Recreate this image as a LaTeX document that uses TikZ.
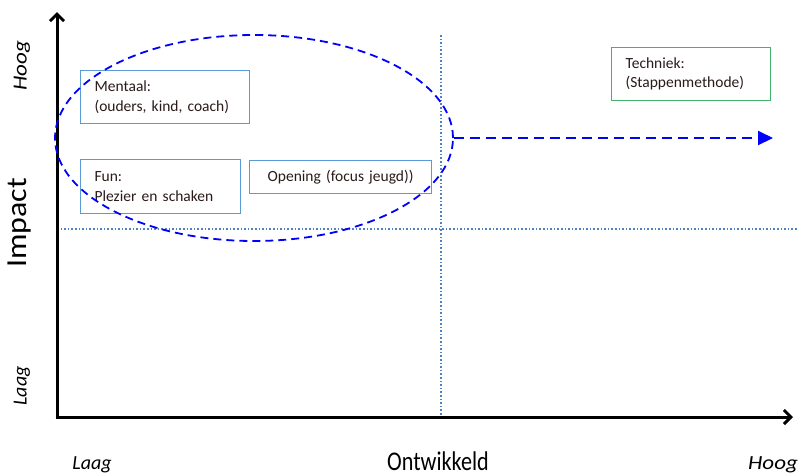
\documentclass[tikz,border=0pt]{standalone}
\usepackage{fontspec}
\setmainfont{Carlito}
\usetikzlibrary{arrows.meta,shapes.geometric}
\definecolor{boxblue}{HTML}{5B9BD5}
\definecolor{dotblue}{HTML}{4F81BD}
\definecolor{boxgreen}{HTML}{3DB36B}
\definecolor{txt}{HTML}{2A1A1A}
\tikzset{
  axis/.style={line width=3pt,-{Straight Barb[length=7pt,width=14pt,line width=3pt]}},
  dotln/.style={dotblue,line width=1.6pt,dash pattern=on 1.6pt off 2pt},
  qbox/.style={draw=boxblue,line width=1.2pt,rectangle,anchor=north west,inner xsep=14pt,inner ysep=0pt,align=left,font=\fontsize{15.5}{19.5}\selectfont,text=txt},
  axlab/.style={font=\itshape\fontsize{20}{22}\selectfont,inner sep=0pt},
  big/.style={font=\fontsize{29}{31}\selectfont}
}
\begin{document}
\begin{tikzpicture}[x=1pt,y=-1pt]
\useasboundingbox (0,0) rectangle (798,475);
\coordinate (O) at (57,417);
\coordinate (Ytop) at (57,12);
\coordinate (Xend) at (793,417);
\coordinate (HL) at (57,229);
\coordinate (HR) at (798,229);
\coordinate (VT) at (441,35);
\coordinate (VB) at (441,417);
\draw[dotln] (HL) -- (HR);
\draw[dotln] (VT) -- (VB);
\draw[axis] (O) -- (Ytop);
\draw[axis] ([xshift=-1.5pt]O) -- (Xend);
\node[qbox,minimum width=169pt,minimum height=53pt,text width=141pt] (ment) at (80,70) {Mentaal:\\(ouders, kind, coach)};
\node[qbox,minimum width=160pt,minimum height=54pt,text width=132pt] (fun) at (80,159) {Fun:\\Plezier en schaken};
\node[qbox,minimum width=182pt,minimum height=33pt,text width=154pt,align=center] (open) at (249,160) {Opening (focus jeugd))};
\node[qbox,draw=boxgreen,minimum width=159pt,minimum height=53pt,text width=131pt] (tech) at (611,47) {Techniek:\\(Stappenmethode)};
\node[ellipse,draw=blue,line width=1.8pt,dash pattern=on 8pt off 5pt,minimum width=398pt,minimum height=206pt,inner sep=0pt] (ell) at (254,138) {};
\coordinate (tip) at (773,138);
\draw[blue,line width=2pt,dash pattern=on 10pt off 6pt,-{Triangle[length=15pt,width=14pt]}] (ell.east) -- (tip);
\node[axlab,rotate=90] (hoogy) at (22,66) {\scalebox{1.15}[1]{Hoog}};
\node[axlab,rotate=90] (laagy) at (22,386) {Laag};
\node[big,rotate=90] (imp) at (20,223) {\scalebox{1.1}[1]{Impact}};
\node[font=\fontsize{27}{29}\selectfont,anchor=base,inner sep=0pt] (ontw) at (438,470) {\scalebox{0.82}[1]{Ontwikkeld}};
\node[axlab,anchor=base] (laagx) at (92,469) {Laag};
\node[axlab,anchor=base] (hoogx) at (773,469) {\scalebox{1.15}[1]{Hoog}};
\end{tikzpicture}
\end{document}
